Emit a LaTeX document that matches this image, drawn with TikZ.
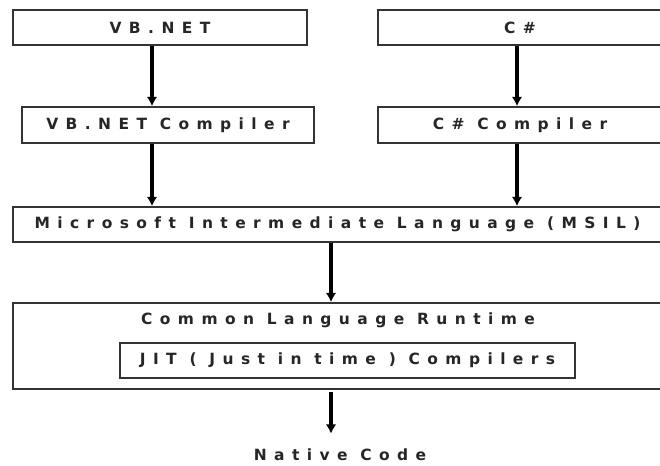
\documentclass[tikz,border=0pt]{standalone}
\usepackage{fontspec}
\newfontfamily\diafont{DejaVu Sans}[LetterSpace=48]
\usetikzlibrary{arrows,arrows.meta,calc,positioning}
\tikzset{
        block/.style = {draw=black!80, line width=1.3pt, rectangle,
            inner sep=0pt,
            minimum height=26.25pt},
        txt/.style = {text=black!85, font=\diafont\bfseries\fontsize{11.6}{13}\selectfont},
        arrow/.style = {draw, line width=2.4pt, -{Latex[length=7pt,width=8pt]}},
    }

\begin{document}
\begin{tikzpicture}[x=0.75pt,y=-0.75pt,every node/.style={txt}]
    \useasboundingbox (0,0) rectangle (660,466);
    \clip (0,0) rectangle (660,466);

    % source languages
    \node[block, minimum width=220.5pt] (vb) at (160,27.5) {VB.NET};
    \node[block, minimum width=213pt] (cs) at (520,27.5) {C\#};

    % compilers
    \node[block, minimum width=219pt, minimum height=27pt] (vbc) at (168,125) {VB.NET Compiler};
    \node[block, minimum width=213pt, minimum height=27pt] (csc) at (520,125) {C\# Compiler};

    \node[block, minimum width=486.75pt] (msil) at (337.5,224.5) {Microsoft Intermediate Language (MSIL)};

    % runtime
    \node[block, minimum width=486.75pt, minimum height=64.5pt] (clr) at (337.5,346) {};
    \node (clrtext) at (338,320) {Common Language Runtime};
    \node[block, minimum width=341.25pt] (jit) at (347.5,360.5) {JIT ( Just in time ) Compilers};

    \node (native) at (340,455) {Native Code};

    \coordinate (vbx) at (152,0);
    \coordinate (csx) at (517,0);
    \coordinate (midx) at (331,0);

    \draw[arrow] (vb.south -| vbx) -- (vbc.north -| vbx);
    \draw[arrow] (cs.south -| csx) -- (csc.north -| csx);
    \draw[arrow] (vbc.south -| vbx) -- (msil.north -| vbx);
    \draw[arrow] (csc.south -| csx) -- (msil.north -| csx);
    \draw[arrow] (msil.south -| midx) -- (clr.north -| midx);
    \draw[arrow, shorten <=1.5pt, shorten >=8pt] (clr.south -| midx) -- (native.north -| midx);
\end{tikzpicture}
\end{document}
